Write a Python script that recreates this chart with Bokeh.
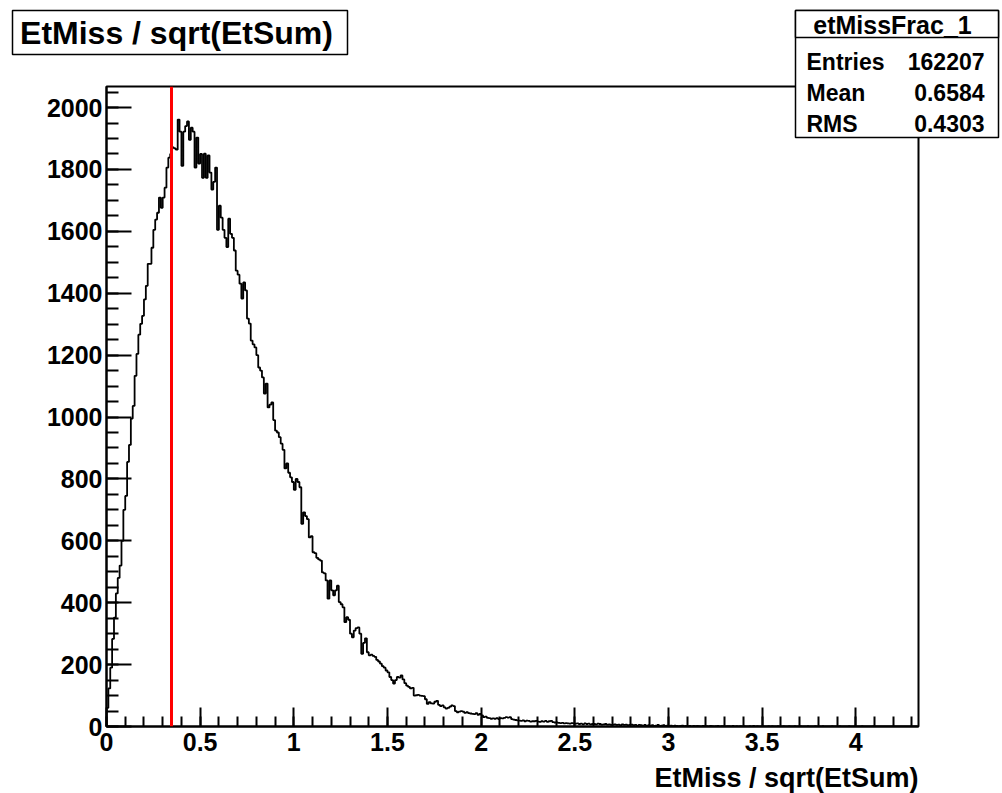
import numpy as np
from bokeh.plotting import figure
from bokeh.models import Range1d, FixedTicker, Span
from bokeh.core.properties import value
from bokeh.embed import file_html
from bokeh.resources import INLINE

# ---------------- data ----------------
bin_start = 0.0
bin_width = 0.01
counts = [
    60, 123, 190, 283, 352, 430, 480, 520, 600, 700,
    745, 855, 910, 995, 1036, 1133, 1204, 1266, 1301, 1327,
    1380, 1424, 1495, 1495, 1547, 1605, 1638, 1660, 1709, 1676,
    1709, 1741, 1806, 1838, 1850, 1871, 1868, 1864, 1961, 1922,
    1812, 1922, 1940, 1955, 1896, 1935, 1922, 1806, 1903, 1819,
    1850, 1773, 1851, 1773, 1845, 1790, 1735, 1760, 1806, 1605,
    1683, 1644, 1605, 1579, 1549, 1641, 1592, 1579, 1538, 1473,
    1460, 1431, 1383, 1435, 1409, 1318, 1302, 1247, 1235, 1225,
    1200, 1160, 1150, 1128, 1076, 1108, 1031, 1040, 1047, 990,
    956, 950, 935, 914, 894, 834, 850, 820, 805, 790,
    765, 800, 790, 773, 655, 692, 680, 670, 611, 615,
    563, 560, 545, 540, 536, 498, 495, 472, 413, 472,
    440, 424, 440, 455, 402, 395, 385, 337, 353, 345,
    300, 288, 310, 318, 320, 300, 235, 270, 285, 240,
    230, 232, 228, 225, 215, 210, 203, 195, 190, 181,
    175, 160, 150, 139, 150, 160, 158, 165, 152, 140,
    132, 128, 123, 125, 100, 101, 102, 100, 99, 98,
    88, 73, 79, 75, 74, 80, 83, 70, 66, 68,
    62, 58, 60, 64, 68, 66, 50, 46, 48, 50,
    48, 44, 46, 43, 42, 41, 40, 43, 38, 41,
    36, 30, 32, 28, 27, 25, 26, 25, 27, 24,
    27, 26, 28, 30, 29, 30, 24, 22, 21, 20,
    19, 18, 20, 17, 19, 18, 16, 17, 17, 18,
    16, 15, 17, 16, 18, 15, 17, 18, 14, 13,
    13, 12, 11, 12, 10, 11, 10, 9, 11, 10,
    9, 10, 8, 9, 7, 10, 8, 9, 7, 8,
    8, 7, 9, 8, 6, 7, 8, 6, 7, 5,
    6, 7, 5, 6, 4, 7, 5, 6, 4, 5,
    6, 4, 5, 3, 5, 4, 3, 5, 2, 4,
    3, 4, 2, 3, 5, 2, 3, 4, 2, 3,
    2, 3, 1, 3, 2, 1, 2, 3, 1, 2,
    1, 2, 0, 2, 1, 2, 1, 0, 2, 1,
    1, 0, 2, 1, 0, 1, 2, 0, 1, 1,
    0, 1, 1, 0, 2, 0, 1, 0, 1, 0,
    1, 0, 0, 1, 0, 2, 0, 1, 0, 0,
    1, 0, 0, 1, 0, 1, 0, 0, 1, 0,
    0, 1, 0, 0, 1, 0, 0, 1, 0, 0,
    1, 0, 0, 0, 1, 0, 0, 0, 1, 0,
    0, 0, 1, 0, 0, 0, 0, 1, 0, 0,
    0, 1, 0, 0, 0, 0, 1, 0, 0, 0,
    0, 0, 0, 1, 0, 0, 0, 0, 0, 1,
    0, 0, 0, 0, 0, 0, 0, 0, 0, 0,
    0, 0, 0, 0, 0, 0, 0, 0, 0, 0,
    0, 0, 0,
]
x_major_ticks = [0, 0.5, 1, 1.5, 2, 2.5, 3, 3.5, 4]
x_tick_labels = ["0", "0.5", "1", "1.5", "2", "2.5", "3", "3.5", "4"]
x_minor_ticks = [0.0, 0.1, 0.2, 0.3, 0.4, 0.5, 0.6, 0.7, 0.8, 0.9, 1.0, 1.1, 1.2, 1.3,
                 1.4, 1.5, 1.6, 1.7, 1.8, 1.9, 2.0, 2.1, 2.2, 2.3, 2.4, 2.5, 2.6, 2.7,
                 2.8, 2.9, 3.0, 3.1, 3.2, 3.3, 3.4, 3.5, 3.6, 3.7, 3.8, 3.9, 4.0, 4.1,
                 4.2, 4.3]
y_major_ticks = [0, 200, 400, 600, 800, 1000, 1200, 1400, 1600, 1800, 2000]
y_minor_ticks = list(range(0, 2051, 50))
cut_value = 0.347
x_max = 4.335
y_max = 2068
hist_title = "EtMiss / sqrt(EtSum)"
x_axis_title = "EtMiss / sqrt(EtSum)"
stats_name = "etMissFrac_1"
stats_labels = ["Entries", "Mean", "RMS"]
stats_values = ["162207", "0.6584", "0.4303"]

# ---------------- layout (canvas pixels) ----------------
W, H = 1002, 793
FL, FR, FT, FB = 106, 918, 86, 726
FONT = "Liberation Sans"


def dx(cx):
    # canvas x pixel -> data x
    return (cx - FL) / (FR - FL) * x_max


def dy(cy):
    # canvas y pixel -> data y
    return (FB - cy) / (FB - FT) * y_max


p = figure(width=W, height=H, output_backend="svg", toolbar_location=None,
           x_range=Range1d(0, x_max), y_range=Range1d(0, y_max),
           min_border_left=FL, min_border_right=W - FR,
           min_border_top=FT, min_border_bottom=H - FB,
           background_fill_color="white", border_fill_color="white")
p.title.visible = False
p.xgrid.visible = False
p.ygrid.visible = False
p.outline_line_color = "black"
p.outline_line_width = 2

xa = p.xaxis[0]
ya = p.yaxis[0]
xa.ticker = FixedTicker(ticks=x_major_ticks, minor_ticks=x_minor_ticks)
ya.ticker = FixedTicker(ticks=y_major_ticks, minor_ticks=y_minor_ticks)
xa.major_label_overrides = {t: s for t, s in zip(x_major_ticks, x_tick_labels)}
for ax in (xa, ya):
    ax.axis_line_color = "black"
    ax.axis_line_width = 2
    ax.major_tick_out = 0
    ax.minor_tick_out = 0
    ax.major_tick_line_color = "black"
    ax.minor_tick_line_color = "black"
    ax.major_tick_line_width = 2
    ax.minor_tick_line_width = 2
    ax.major_label_text_font = FONT
    ax.major_label_text_font_style = "bold"
    ax.major_label_text_font_size = "25px"
    ax.major_label_text_color = "black"
xa.major_tick_in = 19
xa.minor_tick_in = 10
ya.major_tick_in = 25
ya.minor_tick_in = 12
xa.major_label_standoff = 6
ya.major_label_standoff = 4

# histogram as a step outline
edges = bin_start + bin_width * np.arange(len(counts) + 1)
xs = np.concatenate([[edges[0]], edges])
ys = np.concatenate([[0], np.array(counts, dtype=float), [0]])
p.step(xs, ys, mode="after", line_color="black", line_width=1.8)

# cut line
p.add_layout(Span(location=cut_value, dimension="height", line_color="#ff0000", line_width=3))

# ---------------- boxes and texts (overlay level glyphs, not clipped) ----------------
# title box + stats box + stats header box
box_l = [dx(12), dx(795), dx(795)]
box_r = [dx(347), dx(998), dx(998)]
box_t = [dy(10), dy(10), dy(10)]
box_b = [dy(54), dy(137), dy(37)]
p.quad(left=box_l, right=box_r, top=box_t, bottom=box_b,
       fill_color="white", fill_alpha=1.0, line_color="black", line_width=1.5,
       level="overlay")

# title
p.text(x=[dx(176)], y=[dy(32)], text=[hist_title],
       text_font=value(FONT), text_font_style="bold", text_font_size=value("32px"),
       text_align="center", text_baseline="middle", text_color="black", level="overlay")

# x-axis title, right aligned like ROOT
p.text(x=[dx(FR)], y=[dy(792)], text=[x_axis_title],
       text_font=value(FONT), text_font_style="bold", text_font_size=value("27px"),
       text_align="right", text_baseline="bottom", text_color="black", level="overlay")

# stats header
p.text(x=[dx(892)], y=[dy(24)], text=[stats_name],
       text_font=value(FONT), text_font_style="bold", text_font_size=value("25px"),
       text_align="center", text_baseline="middle", text_color="black", level="overlay")

row_y = [61, 92, 123]
p.text(x=[dx(806)] * len(stats_labels), y=[dy(c) for c in row_y], text=stats_labels,
       text_font=value(FONT), text_font_style="bold", text_font_size=value("23px"),
       text_align="left", text_baseline="middle", text_color="black", level="overlay")
p.text(x=[dx(984)] * len(stats_values), y=[dy(c) for c in row_y], text=stats_values,
       text_font=value(FONT), text_font_style="bold", text_font_size=value("23px"),
       text_align="right", text_baseline="middle", text_color="black", level="overlay")

open("out.html", "w").write(file_html(p, INLINE))
